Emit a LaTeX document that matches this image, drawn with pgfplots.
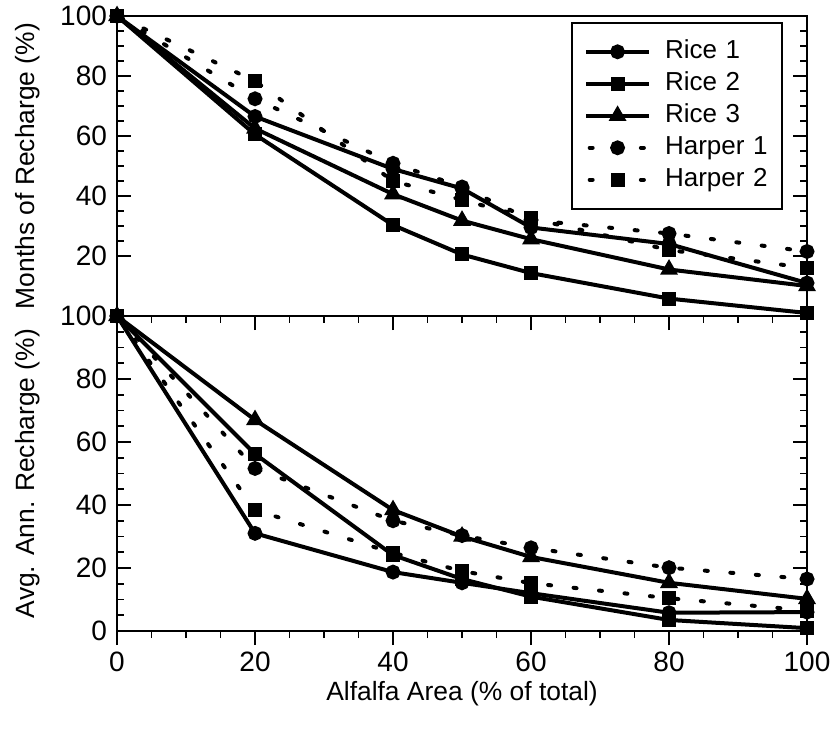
\documentclass[border=0pt]{standalone}
\usepackage{fontspec}
\setmainfont{Liberation Sans}
\usepackage{pgfplots}
\pgfplotsset{compat=1.18}

\newcommand\tickfont{\fontsize{14}{16}\selectfont}
\newcommand\labfont{\fontsize{13.2}{15}\selectfont}
\newcommand\legfont{\fontsize{13}{15}\selectfont}

\pgfplotsset{
  panel/.style={
    scale only axis, width=345pt,
    xmin=0, xmax=100, ymin=0, ymax=100,
    xtick={0,20,...,100}, minor x tick num=3, minor y tick num=3,
    xtick pos=left, ytick pos=both,
    xtick align=outside, ytick align=inside,
    major tick length=7pt, minor tick length=3.5pt,
    axis line style={line width=0.8pt},
    every tick/.append style={black, line width=0.8pt},
    every minor tick/.append style={black, line width=0.8pt},
    xticklabel style={font=\tickfont},
    yticklabel style={font=\tickfont, xshift=-1.5pt},
    /pgf/number format/assume math mode=true,
    every axis y label/.style={at={(axis description cs:-0.129,0.5)}, rotate=90, anchor=center, font=\labfont},
    every axis x label/.style={at={(axis description cs:0.5,-0.2)}, anchor=center, font=\labfont},
    clip=false,
  },
  rice/.style={black, line width=2pt, solid, mark options={solid, fill=black}},
  harper/.style={black, line width=2pt, line cap=round, dash pattern=on 1.5pt off 11.3pt, dash phase=11pt, mark options={solid, fill=black}},
}

\begin{document}
\begin{tikzpicture}
\begin{axis}[panel, name=top, height=150pt,
  ytick={20,40,...,100}, xticklabels={},
  ylabel={Months of Recharge (\%)},
  legend cell align=left,
  legend style={at={(rel axis cs:0.965,0.98)}, anchor=north east,
    draw=black, line width=0.8pt, fill=white,
    inner xsep=6pt, inner ysep=6.5pt,
    font=\legfont,
    nodes={inner xsep=0pt, inner ysep=2pt, text height=9.5pt, text depth=2.5pt, text width=52.5pt, align=left},
    /tikz/every odd column/.append style={column sep=7pt}, row sep=0pt},
  legend image code/.code={\draw[mark repeat=2,mark phase=2,#1] plot coordinates {(0pt,0pt) (15.75pt,0pt) (31.5pt,0pt)};},
]
\addplot[rice, mark=*, mark size=2.7pt] coordinates {(0,100) (20,66.5) (40,49) (50,42.5) (60,29.5) (80,24) (100,11)};
\addlegendentry{Rice 1}
\addplot[rice, mark=square*, mark size=2.5pt] coordinates {(0,100) (20,60.5) (40,30.3) (50,20.5) (60,14.3) (80,5.8) (100,1)};
\addlegendentry{Rice 2}
\addplot[rice, mark=triangle*, mark size=3.2pt] coordinates {(0,100) (20,62.5) (40,40.6) (50,31.8) (60,25.6) (80,15.5) (100,10)};
\addlegendentry{Rice 3}
\addplot[harper, mark=*, mark size=2.7pt] coordinates {(0,100) (20,72.4) (40,50.9) (50,43) (60,32) (80,27.5) (100,21.5)};
\addlegendentry{Harper 1}
\addplot[harper, mark=square*, mark size=2.5pt] coordinates {(0,100) (20,78.3) (40,45) (50,38.7) (60,32.5) (80,22) (100,16)};
\addlegendentry{Harper 2}
\coordinate (tl) at (rel axis cs:-0.1696,1.0533);
\end{axis}

\begin{axis}[panel, at={(top.south west)}, anchor=north west, height=157.5pt,
  ytick={0,20,...,100},
  xlabel={Alfalfa Area (\% of total)},
  ylabel={Avg. Ann. Recharge (\%)},
]
\addplot[rice, mark=*, mark size=2.7pt] coordinates {(0,100) (20,31) (40,18.7) (50,15.3) (60,12) (80,5.8) (100,6)};
\addplot[rice, mark=square*, mark size=2.5pt] coordinates {(0,100) (20,56.2) (40,24.1) (50,16.5) (60,10.9) (80,3.5) (100,0.9)};
\addplot[rice, mark=triangle*, mark size=3.2pt] coordinates {(0,100) (20,67) (40,38.4) (50,30) (60,23.5) (80,15.3) (100,10.2)};
\addplot[harper, mark=*, mark size=2.7pt] coordinates {(0,100) (20,51.6) (40,35) (50,30.3) (60,26.4) (80,20.1) (100,16.5)};
\addplot[harper, mark=square*, mark size=2.5pt] coordinates {(0,100) (20,38.4) (40,24.8) (50,19) (60,15.2) (80,10.4) (100,6.5)};
\coordinate (br) at (rel axis cs:1.0333,-0.346);
\end{axis}
\pgfresetboundingbox
\path (tl) rectangle (br);
\end{tikzpicture}
\end{document}
